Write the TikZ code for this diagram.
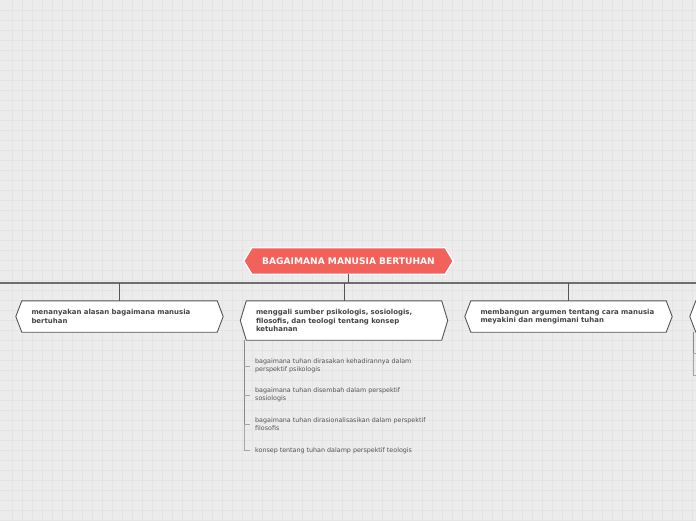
\documentclass[tikz,border=0pt]{standalone}
\usepackage{fontspec}
\setmainfont{DejaVu Sans}
\usetikzlibrary{backgrounds,calc}
\definecolor{bgc}{HTML}{ECECEC}
\definecolor{gridc}{HTML}{E4E4E4}
\definecolor{rootc}{HTML}{F2625A}
\definecolor{busc}{HTML}{6E6E6E}
\definecolor{linec}{HTML}{555555}
\definecolor{nodetxt}{HTML}{444444}
\definecolor{subtxt}{HTML}{555555}
\definecolor{subline}{HTML}{8A8A8A}
\definecolor{tickc}{HTML}{A5A5A5}
\tikzset{
  rootbox/.style={minimum width=209pt, minimum height=26pt, inner sep=0pt,
    text=white, font=\fontsize{9.1}{10}\selectfont\bfseries},
  childbox/.style={minimum width=207pt, inner xsep=15.5pt, inner ysep=0pt,
    text width=176pt, align=left, text=nodetxt,
    font=\fontsize{6.95}{8.4}\selectfont\bfseries},
  subitem/.style={anchor=west, inner sep=0pt, align=left, text=subtxt,
    font=\fontsize{6.35}{7.8}\selectfont},
  hexline/.style={draw=linec, line width=0.9pt, fill=white},
  busline/.style={draw=busc, line width=1.4pt},
  conn/.style={draw=linec, line width=0.9pt},
  subbar/.style={draw=subline, line width=1pt},
  tick/.style={draw=tickc, line width=0.8pt},
}
\newcommand{\hexpath}[3]{% node, inset, style
  \path[#3] ([xshift=#2]#1.north west) -- ([xshift=-#2]#1.north east) -- (#1.east)
    -- ([xshift=-#2]#1.south east) -- ([xshift=#2]#1.south west) -- (#1.west) -- cycle;}
\begin{document}
\begin{tikzpicture}[x=1pt,y=-1pt]
\useasboundingbox (0,0) rectangle (696,520);
% nodes
\node[rootbox] (root) at (348.5,261) {BAGAIMANA MANUSIA BERTUHAN};
\node[childbox, minimum height=31pt] (c1) at (119.5,316.5) {menanyakan alasan bagaimana manusia\\bertuhan};
\node[childbox, minimum height=39pt] (c2) at (344,320.5) {menggali sumber psikologis, sosiologis,\\filosofis, dan teologi tentang konsep\\ketuhanan};
\node[childbox, minimum height=31pt] (c3) at (568.5,316.5) {membangun argumen tentang cara manusia\\meyakini dan mengimani tuhan};
\node[childbox, minimum height=31pt] (c4) at (793.5,316.5) {};
\node[subitem] (s1) at (255,366) {bagaimana tuhan dirasakan kehadirannya dalam\\perspektif psikologis};
\node[subitem] (s2) at (255,395) {bagaimana tuhan disembah dalam perspektif\\sosiologis};
\node[subitem] (s3) at (255,424.5) {bagaimana tuhan dirasionalisasikan dalam perspektif\\filosofis};
\node[subitem] (s4) at (255,450.5) {konsep tentang tuhan dalamp perspektif teologis};
\coordinate (busL) at (0,283);
\coordinate (busR) at (696,283);
\coordinate (r4a) at (700,353);
\coordinate (r4b) at (700,375);
\begin{pgfonlayer}{background}
  \fill[bgc] (0,0) rectangle (696,520);
  \foreach \gx in {12,22,...,692} \draw[gridc, line width=0.5pt] (\gx,0) -- (\gx,520);
  \foreach \gy in {10,20,...,520} \draw[gridc, line width=0.5pt] (0,\gy) -- (696,\gy);
  \hexpath{root}{8pt}{fill=rootc, draw=white, line width=1.3pt}
  \hexpath{c1}{6pt}{hexline}
  \hexpath{c2}{6pt}{hexline}
  \hexpath{c3}{6pt}{hexline}
  \hexpath{c4}{6pt}{hexline}
\end{pgfonlayer}
% connectors
\draw[busline] (busL) -- (busR);
\draw[conn] (root.south) -- (root.south |- busL);
\draw[conn] (c1.north) -- (c1.north |- busL);
\draw[conn] (c2.north) -- (c2.north |- busL);
\draw[conn] (c3.north) -- (c3.north |- busL);
\draw[tick] ([xshift=4pt]c2.south west) |- ([xshift=-5pt]s4.west);
\draw[subbar] ([xshift=4pt]c2.south west) -- ([xshift=4pt]c2.south west |- s3.west);
\foreach \s in {s1,s2,s3}
  \draw[tick] ([xshift=4pt]c2.south west |- \s.west) -- ([xshift=-5pt]\s.west);
\draw[tick] ([xshift=4pt]c4.south west) |- (r4b);
\draw[subbar] ([xshift=4pt]c4.south west) -- ([xshift=4pt]c4.south west |- r4a);
\draw[tick] ([xshift=4pt]c4.south west |- r4a) -- (r4a);
\end{tikzpicture}
\end{document}
